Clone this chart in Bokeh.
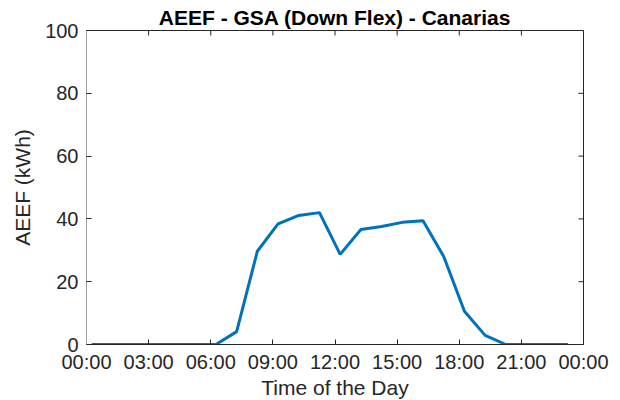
from math import pi
from bokeh.plotting import figure
from bokeh.models import FixedTicker, Range1d, ColumnDataSource
from bokeh.embed import file_html
from bokeh.resources import INLINE

# Data (hour of day, energy in kWh)
hours = [0.25, 1.25, 2.25, 3.25, 4.25, 5.25, 6.25, 7.25, 8.25, 9.25, 10.25, 11.25,
         12.25, 13.25, 14.25, 15.25, 16.25, 17.25, 18.25, 19.25, 20.25, 21.25, 22.25, 23.25]
aeef = [0, 0, 0, 0, 0, 0, 0, 4.1, 29.7, 38.4, 41.1, 42.0,
        28.7, 36.6, 37.6, 38.9, 39.4, 28.0, 10.6, 2.9, 0, 0, 0, 0]

x_ticks = [0, 3, 6, 9, 12, 15, 18, 21, 24]
x_tick_labels = ["00:00", "03:00", "06:00", "09:00", "12:00", "15:00", "18:00", "21:00", "00:00"]
y_ticks = [0, 20, 40, 60, 80, 100]

title_text = "AEEF - GSA (Down Flex) - Canarias"
x_label = "Time of the Day"
y_label = "AEEF (kWh)"

FONT = "Liberation Sans"
TXT = "#262626"

x_min, x_max = x_ticks[0], x_ticks[-1]
y_min, y_max = y_ticks[0], y_ticks[-1]

p = figure(frame_width=497, frame_height=314, output_backend="svg", toolbar_location=None,
           x_range=Range1d(x_min, x_max), y_range=Range1d(y_min, y_max),
           min_border_left=86, min_border_right=37, min_border_top=30, min_border_bottom=56,
           background_fill_color="white", border_fill_color="white")

p.title.text = title_text
p.title.align = "center"
p.title.text_font = FONT
p.title.text_font_size = "21px"
p.title.text_font_style = "bold"
p.title.text_color = "black"
p.title.standoff = 4

p.xgrid.visible = False
p.ygrid.visible = False
p.outline_line_color = TXT
p.outline_line_width = 1

src = ColumnDataSource(dict(x=hours, y=aeef))
p.line("x", "y", source=src, line_color="#0072BD", line_width=3)

# inward tick marks on the top and right edges of the box
p.scatter(x=x_ticks, y=[y_max] * len(x_ticks), marker="dash", angle=pi / 2,
          size=10, line_color=TXT, line_width=1)
p.scatter(x=[x_max] * len(y_ticks), y=y_ticks, marker="dash",
          size=10, line_color=TXT, line_width=1)

def style(ax, ticks, line_color=TXT):
    ax.ticker = FixedTicker(ticks=ticks)
    ax.minor_tick_line_color = None
    ax.major_tick_in = 5
    ax.major_tick_out = 0
    ax.major_tick_line_color = TXT
    ax.axis_line_color = line_color
    ax.axis_line_width = 1
    ax.major_label_text_font = FONT
    ax.major_label_text_color = TXT
    ax.major_label_text_font_size = "20px"
    ax.axis_label_text_font = FONT
    ax.axis_label_text_font_size = "21px"
    ax.axis_label_text_font_style = "normal"
    ax.axis_label_text_color = TXT

xa = p.xaxis[0]
style(xa, x_ticks)
xa.major_label_overrides = {t: l for t, l in zip(x_ticks, x_tick_labels)}
xa.axis_label = x_label
xa.major_label_standoff = 6
xa.axis_label_standoff = 0

ya = p.yaxis[0]
style(ya, y_ticks, line_color="#a0a0a0")
ya.axis_label = y_label
ya.major_label_standoff = 8
ya.axis_label_standoff = 8

open("out.html", "w").write(file_html(p, INLINE))
